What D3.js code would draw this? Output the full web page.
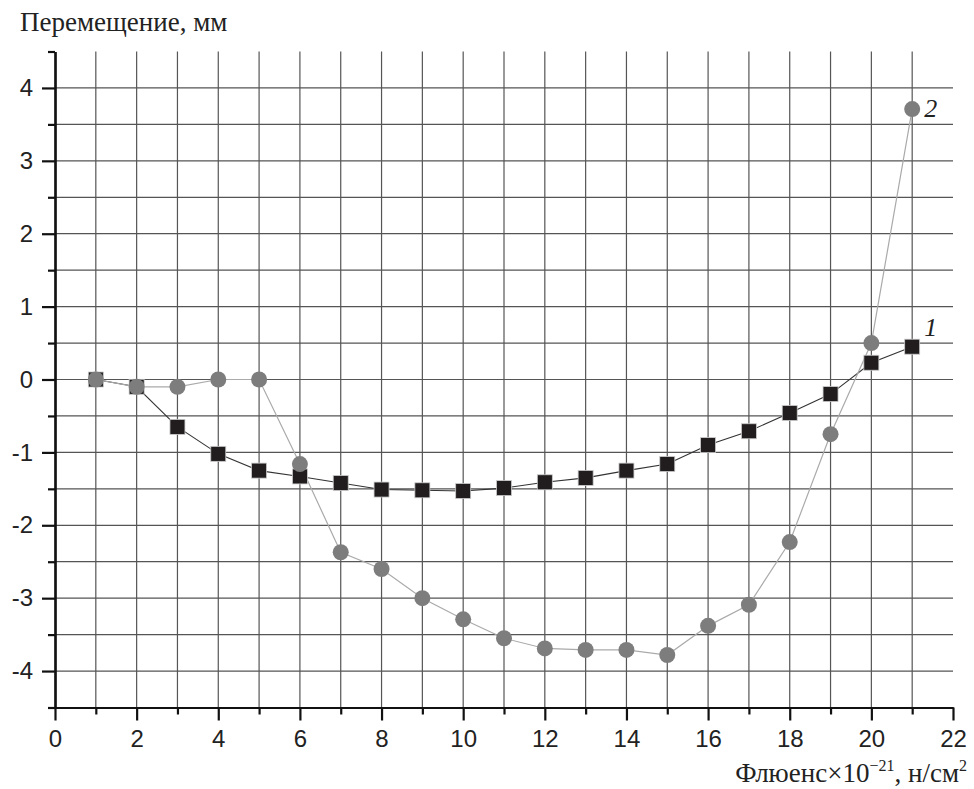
<!DOCTYPE html>
<html>
<head>
<meta charset="utf-8">
<script src="https://cdn.jsdelivr.net/npm/d3@7"></script>
<style>
  body { margin: 0; background: #fff; }
  .tick text { font-family: "Liberation Sans", Arial, sans-serif; font-size: 24px; fill: #222; }
  .serif { font-family: "Liberation Serif", "Times New Roman", serif; fill: #222; }
</style>
</head>
<body>
<script>
// fluence, 10^21 n/cm2
var fluence = [1, 2, 3, 4, 5, 6, 7, 8, 9, 10, 11, 12, 13, 14, 15, 16, 17, 18, 19, 20, 21];
// curve 1 (squares), mm
var curve1 = [0, -0.1, -0.65, -1.02, -1.25, -1.33, -1.42, -1.51, -1.52, -1.53, -1.49, -1.41, -1.35, -1.25, -1.16, -0.9, -0.71, -0.46, -0.2, 0.23, 0.45];
// curve 2 (circles), mm
var curve2 = [0, -0.1, -0.1, 0, 0, -1.16, -2.37, -2.6, -3.0, -3.29, -3.55, -3.69, -3.71, -3.71, -3.78, -3.38, -3.09, -2.23, -0.75, 0.5, 3.71];

var xMajor = [0, 2, 4, 6, 8, 10, 12, 14, 16, 18, 20, 22];
var xMinor = [1, 3, 5, 7, 9, 11, 13, 15, 17, 19, 21];
var yMajor = [-4, -3, -2, -1, 0, 1, 2, 3, 4];
var yMinor = [-4.5, -3.5, -2.5, -1.5, -0.5, 0.5, 1.5, 2.5, 3.5, 4.5];
var yGrid = [-4, -3.5, -3, -2.5, -2, -1.5, -1, -0.5, 0, 0.5, 1, 1.5, 2, 2.5, 3, 3.5, 4];

var width = 974, height = 789;

var x = d3.scaleLinear().domain([0, 22]).range([55, 953]);
var y = d3.scaleLinear().domain([-4.5, 4.5]).range([707.5, 51.5]);

var svg = d3.select("body").append("svg")
    .attr("width", width).attr("height", height);

// grid
svg.append("g").selectAll("line")
    .data(xMinor.concat(xMajor.filter(function(d){ return d > 0 && d < 22; })))
    .enter().append("line")
    .attr("x1", function(d){ return x(d); }).attr("x2", function(d){ return x(d); })
    .attr("y1", y(-4.5)).attr("y2", y(4.5))
    .attr("stroke", "#555").attr("stroke-width", 1.2);

svg.append("g").selectAll("line")
    .data(yGrid)
    .enter().append("line")
    .attr("x1", x(0)).attr("x2", x(22))
    .attr("y1", function(d){ return y(d); }).attr("y2", function(d){ return y(d); })
    .attr("stroke", "#555").attr("stroke-width", 1.2);

// axes
function styleAxis(g) {
  g.select(".domain").attr("stroke", "#111").attr("stroke-width", 2.2);
  g.selectAll(".tick line").attr("stroke", "#111").attr("stroke-width", 2.2);
}
var plain = function(d){ return String(d); };

svg.append("g").attr("transform", "translate(0," + y(-4.5) + ")")
    .call(d3.axisBottom(x).tickValues(xMinor).tickSize(7).tickSizeOuter(0).tickFormat(""))
    .call(styleAxis);
svg.append("g").attr("transform", "translate(0," + y(-4.5) + ")")
    .call(d3.axisBottom(x).tickValues(xMajor).tickSize(13).tickSizeOuter(0).tickPadding(9).tickFormat(plain))
    .call(styleAxis);

svg.append("g").attr("transform", "translate(" + x(0) + ",0)")
    .call(d3.axisLeft(y).tickValues(yMinor).tickSize(7).tickSizeOuter(0).tickFormat(""))
    .call(styleAxis);
svg.append("g").attr("transform", "translate(" + x(0) + ",0)")
    .call(d3.axisLeft(y).tickValues(yMajor).tickSize(13).tickSizeOuter(0).tickPadding(9).tickFormat(plain))
    .call(styleAxis);

// lines
var line1 = d3.line().x(function(d, i){ return x(fluence[i]); }).y(function(d){ return y(d); });

svg.append("path").attr("d", line1(curve1))
    .attr("fill", "none").attr("stroke", "#333").attr("stroke-width", 1.1);
svg.append("path").attr("d", line1(curve2))
    .attr("fill", "none").attr("stroke", "#aaa").attr("stroke-width", 1.2);

// markers
svg.append("g").selectAll("rect")
    .data(curve1)
    .enter().append("rect")
    .attr("x", function(d, i){ return x(fluence[i]) - 7.5; })
    .attr("y", function(d){ return y(d) - 7.5; })
    .attr("width", 15).attr("height", 15)
    .attr("fill", "#211d1e").attr("stroke", "#ccc").attr("stroke-width", 0.8);

svg.append("g").selectAll("circle")
    .data(curve2)
    .enter().append("circle")
    .attr("cx", function(d, i){ return x(fluence[i]); })
    .attr("cy", function(d){ return y(d); })
    .attr("r", 8)
    .attr("fill", "#7d7d7d");

// curve labels
svg.append("text").attr("class", "serif")
    .attr("x", x(21) + 12).attr("y", y(curve2[20]) + 8)
    .style("font-size", "26px").style("font-style", "italic")
    .text("2");
svg.append("text").attr("class", "serif")
    .attr("x", x(21) + 12).attr("y", y(curve1[20]) - 11)
    .style("font-size", "26px").style("font-style", "italic")
    .text("1");

// titles
svg.append("text").attr("class", "serif")
    .attr("x", 20).attr("y", 31)
    .style("font-size", "27px")
    .text("Перемещение, мм");

var xt = svg.append("text").attr("class", "serif")
    .attr("x", 967).attr("y", 782)
    .attr("text-anchor", "end")
    .style("font-size", "27px");
xt.append("tspan").text("Флюенс×10");
xt.append("tspan").attr("dy", -11).style("font-size", "16px").text("−21");
xt.append("tspan").attr("dy", 11).text(", н/см");
xt.append("tspan").attr("dy", -11).style("font-size", "16px").text("2");
</script>
</body>
</html>
